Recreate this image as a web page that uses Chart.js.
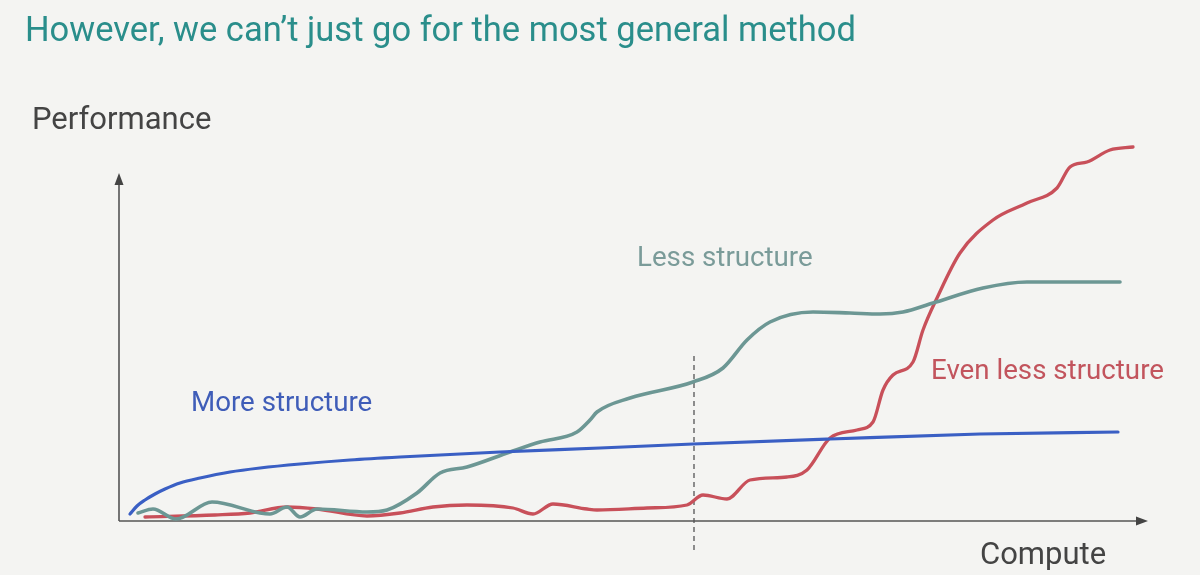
<!DOCTYPE html>
<html>
<head>
<meta charset="utf-8">
<script src="https://cdn.jsdelivr.net/npm/chart.js@4/dist/chart.umd.min.js"></script>
<style>
  html, body { margin: 0; padding: 0; background: #f4f4f2; }
  #wrap { position: relative; width: 1200px; height: 575px; overflow: hidden; font-family: Roboto, "Noto Sans", sans-serif; }
  #c { position: absolute; left: 0; top: 0; }
  .t { position: absolute; white-space: nowrap; line-height: 1; }
</style>
</head>
<body>
<div id="wrap">
  <canvas id="c" width="1200" height="575"></canvas>
  <div class="t" style="left:25px; top:12px; font-size:34.5px; color:#2a8e8b;">However, we can’t just go for the most general method</div>
  <div class="t" style="left:32px; top:103px; font-size:31px; color:#444444;">Performance</div>
  <div class="t" style="left:980px; top:538px; font-size:31px; color:#444444;">Compute</div>
  <div class="t" style="left:637px; top:243px; font-size:27.7px; color:#7a9b99;">Less structure</div>
  <div class="t" style="left:191px; top:388px; font-size:27.7px; color:#3f5db8;">More structure</div>
  <div class="t" style="left:931px; top:356px; font-size:27.7px; color:#c2545d;">Even less structure</div>
</div>
<script>
// Compute (x) vs Performance (y), arbitrary units
const moreStructure = [
  [11,7],[18,15],[26,21],[36,27],[46,32],[61,38],[81,43],[111,49],[141,53],[181,57],
  [231,61],[281,64],[381,69],[481,73],[574,77],[711,82],[861,87],[999,89]
];
const lessStructure = [
  [19,8],[34,12],[57,2],[93,19],[141,8],[151,7],[168,14],[181,4],[198,12],[248,9],
  [268,11],[298,28],[321,48],[348,54],[391,69],[421,79],[458,89],[471,101],[478,109],
  [511,123],[574,139],[604,153],[628,181],[651,199],[694,209],[731,208],[761,207],
  [784,209],[814,218],[864,233],[908,239],[1001,239]
];
const evenLessStructure = [
  [26,4],[96,6],[131,8],[168,14],[198,12],[248,5],[281,8],[314,14],[348,16],[394,13],
  [414,7],[434,17],[468,12],[478,11],[528,13],[568,16],[584,26],[608,22],[631,41],
  [668,44],[688,51],[711,83],[738,91],[754,99],[764,131],[774,146],[794,159],[804,191],
  [818,223],[841,268],[874,301],[908,318],[938,333],[951,354],[968,359],[991,371],[1014,374]
];
const xAxisMax = 1029;   // arrow tip of compute axis
const yAxisMax = 348;    // arrow tip of performance axis
const yScaleMax = 381;
const dashedX = 575;     // vertical dashed marker
const dashedTop = 165;
const dashedBottom = -32;

const toXY = arr => arr.map(p => ({x: p[0], y: p[1]}));

const axesPlugin = {
  id: 'axes',
  beforeDatasetsDraw(chart) {
    const ctx = chart.ctx, xs = chart.scales.x, ys = chart.scales.y;
    const x0 = xs.getPixelForValue(0), y0 = ys.getPixelForValue(0);
    const xt = xs.getPixelForValue(xAxisMax), yt = ys.getPixelForValue(yAxisMax);
    ctx.save();
    ctx.strokeStyle = '#555555'; ctx.fillStyle = '#444444'; ctx.lineWidth = 1.6;
    ctx.beginPath(); ctx.moveTo(x0, y0); ctx.lineTo(xt - 10, y0);
    ctx.moveTo(x0, y0); ctx.lineTo(x0, yt + 10); ctx.stroke();
    ctx.beginPath(); ctx.moveTo(xt, y0); ctx.lineTo(xt - 12, y0 - 4.5); ctx.lineTo(xt - 12, y0 + 4.5); ctx.closePath(); ctx.fill();
    ctx.beginPath(); ctx.moveTo(x0, yt); ctx.lineTo(x0 - 4.5, yt + 12); ctx.lineTo(x0 + 4.5, yt + 12); ctx.closePath(); ctx.fill();
    // dashed marker
    const dx = xs.getPixelForValue(dashedX);
    ctx.strokeStyle = '#555555'; ctx.lineWidth = 1.3; ctx.setLineDash([5, 4]);
    ctx.beginPath(); ctx.moveTo(dx, ys.getPixelForValue(dashedTop)); ctx.lineTo(dx, ys.getPixelForValue(dashedBottom)); ctx.stroke();
    ctx.restore();
  }
};

new Chart(document.getElementById('c'), {
  type: 'scatter',
  data: {
    datasets: [
      { label: 'More structure', data: toXY(moreStructure), showLine: true, borderColor: '#3a5fc4', borderWidth: 3.2, pointRadius: 0, cubicInterpolationMode: 'monotone' },
      { label: 'Less structure', data: toXY(lessStructure), showLine: true, borderColor: '#6c9794', borderWidth: 3.6, pointRadius: 0, cubicInterpolationMode: 'monotone' },
      { label: 'Even less structure', data: toXY(evenLessStructure), showLine: true, borderColor: '#c8505a', borderWidth: 3.3, pointRadius: 0, cubicInterpolationMode: 'monotone' }
    ]
  },
  options: {
    responsive: false,
    animation: false,
    devicePixelRatio: 1,
    layout: { padding: { left: 119, right: 52, top: 140, bottom: 54 } },
    scales: {
      x: { type: 'linear', min: 0, max: xAxisMax, display: false },
      y: { type: 'linear', min: 0, max: yScaleMax, display: false }
    },
    plugins: { legend: { display: false }, tooltip: { enabled: false } },
    elements: { line: { borderCapStyle: 'round', borderJoinStyle: 'round' } },
    clip: false
  },
  plugins: [axesPlugin]
});
</script>
</body>
</html>
